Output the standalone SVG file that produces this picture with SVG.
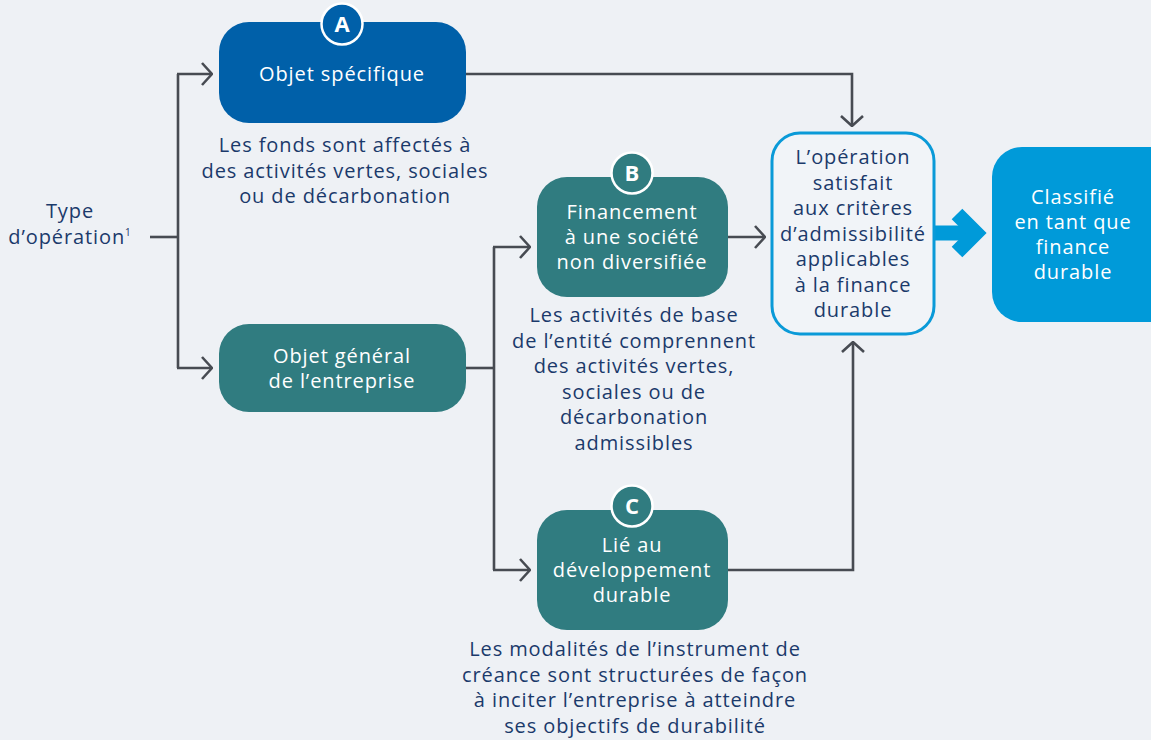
<svg xmlns="http://www.w3.org/2000/svg" width="1151" height="740" viewBox="0 0 1151 740">
<defs>
<style>
text{font-family:"Open Sans","Noto Sans","Liberation Sans",sans-serif;font-size:20px;letter-spacing:0.9px;text-anchor:middle}
.cap{fill:#1b3a6b}
.wt{fill:#ffffff}
.badge{font-size:22px;font-weight:bold;fill:#ffffff;letter-spacing:0}
.ln{fill:none;stroke:#474b52;stroke-width:2.6}
.blue{fill:#0060a9}
.teal{fill:#307c80}
</style>
<marker id="ah" viewBox="0 0 12 24" refX="11" refY="12" markerWidth="12" markerHeight="24" markerUnits="userSpaceOnUse" orient="auto">
<polyline points="1,1 11,12 1,23" fill="none" stroke="#474b52" stroke-width="2.6"/>
</marker>
</defs>
<rect width="1151" height="740" fill="#eef1f5"/>
<g id="connectors">
<polyline class="ln" points="150,237 178,237"/>
<polyline class="ln" points="178,74 178,368"/>
<polyline class="ln" points="177,74 212,74" marker-end="url(#ah)"/>
<polyline class="ln" points="177,368 212,368" marker-end="url(#ah)"/>
<polyline class="ln" points="466,74 852,74 852,126" marker-end="url(#ah)"/>
<polyline class="ln" points="466,368 494,368"/>
<polyline class="ln" points="494,247 494,570"/>
<polyline class="ln" points="493,247 530,247" marker-end="url(#ah)"/>
<polyline class="ln" points="493,570 530,570" marker-end="url(#ah)"/>
<polyline class="ln" points="728,237 765,237" marker-end="url(#ah)"/>
<polyline class="ln" points="728,570 853,570 853,342" marker-end="url(#ah)"/>
<g id="big-arrow" fill="none" stroke="#009ad9" stroke-width="15">
<line x1="935" y1="233" x2="972" y2="233"/>
<polyline points="957,214 976,233 957,252" stroke-linejoin="miter"/>
</g>
</g>
<g id="type">
<text class="cap" x="70" y="218">Type</text>
<text class="cap" x="70" y="244">d’opération<tspan font-size="10" dy="-8">1</tspan></text>
</g>
<g id="nodeA">
<rect class="blue" x="219" y="22" width="247" height="101" rx="30"/>
<circle cx="342" cy="24" r="20.5" fill="#0060a9" stroke="#ffffff" stroke-width="2.5"/>
<text class="badge" x="342" y="32">A</text>
<text class="wt" x="342" y="81">Objet spécifique</text>
</g>
<g id="captionA">
<text class="cap" x="345" y="152">Les fonds sont affectés à</text>
<text class="cap" x="345" y="178">des activités vertes, sociales</text>
<text class="cap" x="345" y="203">ou de décarbonation</text>
</g>
<g id="nodeGeneral">
<rect class="teal" x="219" y="324" width="247" height="88" rx="30"/>
<text class="wt" x="342" y="363">Objet général</text>
<text class="wt" x="342" y="388">de l’entreprise</text>
</g>
<g id="nodeB">
<rect class="teal" x="537" y="177" width="191" height="120" rx="30"/>
<circle cx="632" cy="173" r="20.5" fill="#307c80" stroke="#ffffff" stroke-width="2.5"/>
<text class="badge" x="632" y="181">B</text>
<text class="wt" x="632" y="219">Financement</text>
<text class="wt" x="632" y="244">à une société</text>
<text class="wt" x="632" y="269">non diversifiée</text>
</g>
<g id="captionB">
<text class="cap" x="634" y="322">Les activités de base</text>
<text class="cap" x="634" y="348">de l’entité comprennent</text>
<text class="cap" x="634" y="373">des activités vertes,</text>
<text class="cap" x="634" y="399">sociales ou de</text>
<text class="cap" x="634" y="424">décarbonation</text>
<text class="cap" x="634" y="450">admissibles</text>
</g>
<g id="nodeC">
<rect class="teal" x="537" y="510" width="191" height="120" rx="30"/>
<circle cx="632" cy="506" r="20.5" fill="#307c80" stroke="#ffffff" stroke-width="2.5"/>
<text class="badge" x="632" y="514">C</text>
<text class="wt" x="632" y="552">Lié au</text>
<text class="wt" x="632" y="577">développement</text>
<text class="wt" x="632" y="602">durable</text>
</g>
<g id="captionC">
<text class="cap" x="635" y="656">Les modalités de l’instrument de</text>
<text class="cap" x="635" y="682">créance sont structurées de façon</text>
<text class="cap" x="635" y="707">à inciter l’entreprise à atteindre</text>
<text class="cap" x="635" y="733">ses objectifs de durabilité</text>
</g>
<g id="nodeCriteria">
<rect x="772" y="133" width="162" height="201" rx="28" fill="#f1f4f8" stroke="#0a9ad8" stroke-width="3"/>
<text class="cap" x="853" y="164">L’opération</text>
<text class="cap" x="853" y="190">satisfait</text>
<text class="cap" x="853" y="215">aux critères</text>
<text class="cap" x="853" y="241">d’admissibilité</text>
<text class="cap" x="853" y="266">applicables</text>
<text class="cap" x="853" y="292">à la finance</text>
<text class="cap" x="853" y="317">durable</text>
</g>
<g id="nodeClassified">
<rect x="992" y="147" width="190" height="175" rx="30" fill="#009ad9"/>
<text class="wt" x="1073" y="204">Classifié</text>
<text class="wt" x="1073" y="229">en tant que</text>
<text class="wt" x="1073" y="254">finance</text>
<text class="wt" x="1073" y="279">durable</text>
</g>
</svg>
